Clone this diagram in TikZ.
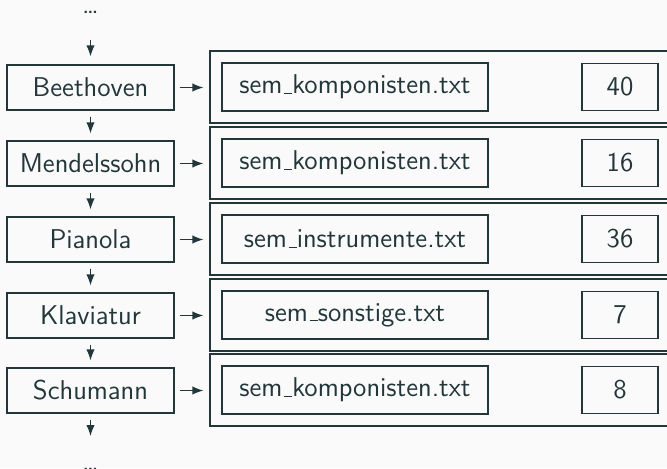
\documentclass[tikz,border=0pt]{standalone}
\usetikzlibrary{arrows.meta}
\definecolor{fg}{HTML}{23373B}
\definecolor{bg}{HTML}{FAFAFA}
\newcommand\myus{\leavevmode\kern.06em\vbox{\hrule width.3em height 0.45pt}}
\begin{document}
\begin{tikzpicture}[x=0.5pt,y=-0.5pt,
  every node/.style={font=\sffamily\fontsize{13.6}{15}\selectfont, text=fg, inner sep=0pt},
  keybox/.style={draw=fg, line width=0.6pt, minimum width=83.5pt, minimum height=22.5pt},
  filebox/.style={draw=fg, line width=0.6pt, minimum width=133pt, minimum height=24pt},
  numbox/.style={draw=fg, line width=0.6pt, minimum width=38pt, minimum height=23.5pt},
  outerbox/.style={draw=fg, line width=0.6pt, minimum width=235pt, minimum height=36pt},
  arr/.style={draw=fg, line width=0.6pt, -{Latex[length=5.5pt,width=4.2pt]}},
  dotsnode/.style={anchor=base}]
\fill[bg] (0,0) rectangle (667,468);
\path[use as bounding box, clip] (0,0) rectangle (667,468);

\node[dotsnode] (topdots) at (90.5,13) {\dots};
\node[dotsnode] (botdots) at (90.5,470) {\dots};
\coordinate (topstart) at (90.5,40);
\coordinate (botend) at (90.5,436);

\foreach \i/\name/\file/\num/\y in {1/Beethoven/sem\myus komponisten.txt/40/87,
  2/Mendelssohn/sem\myus komponisten.txt/16/163,
  3/Pianola/sem\myus instrumente.txt/36/239,
  4/Klaviatur/sem\myus sonstige.txt/7/315,
  5/Schumann/sem\myus komponisten.txt/8/390}{
  \node[keybox] (k\i) at (90.5,\y+0.5) {\name};
  \node[outerbox] (o\i) at (445,\y) {};
  \node[filebox] (f\i) at (355,\y) {\file};
  \node[numbox] (n\i) at (620,\y) {\num};
  \draw[arr, shorten <=2.5pt, shorten >=3pt] (k\i.east) -- (o\i.west |- k\i.east);
}
\draw[arr, shorten >=4pt] (topstart) -- (k1.north);
\foreach \a/\b in {1/2,2/3,3/4,4/5}{
  \draw[arr, shorten <=3pt, shorten >=3.5pt] (k\a.south) -- (k\b.north);
}
\draw[arr, shorten <=3pt] (k5.south) -- (botend);
\end{tikzpicture}
\end{document}
